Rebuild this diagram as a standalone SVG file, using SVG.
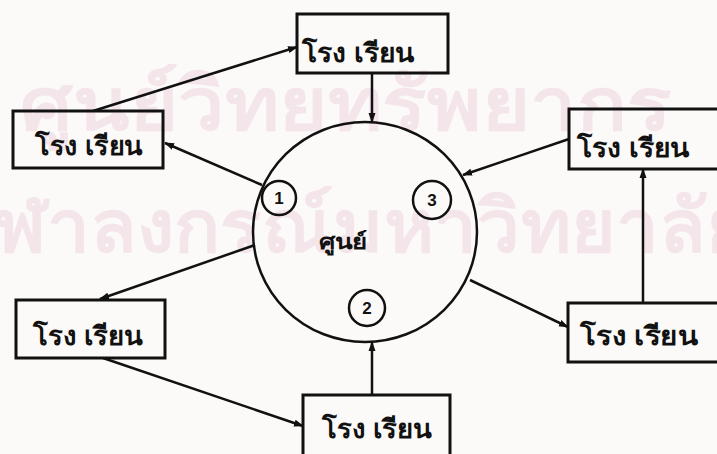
<svg xmlns="http://www.w3.org/2000/svg" width="717" height="454" viewBox="0 0 717 454">
<defs>
<marker id="ah" viewBox="0 0 10 10" refX="9" refY="5" markerWidth="4" markerHeight="4" orient="auto" markerUnits="strokeWidth">
<path d="M0,1.5 L10,5 L0,8.5 z" fill="#111"/>
</marker>
<style>
.bg{fill:#fbfaf8}
.wm{fill:#f4e5eb;font-family:"Noto Sans","DejaVu Sans",sans-serif;font-weight:bold}
.box{fill:none;stroke:#111;stroke-width:3}
.lbl{fill:#111;font-family:"Noto Sans","DejaVu Sans",sans-serif;font-size:26px;font-weight:bold}
.c{fill:none;stroke:#111;stroke-width:2.5}
.num{fill:#111;font-family:"Liberation Sans",Arial,sans-serif;font-size:17px;font-weight:bold;text-anchor:middle}
.conn line{stroke:#111;stroke-width:2.5;marker-end:url(#ah)}
</style>
</defs>
<rect class="bg" x="0" y="0" width="717" height="454"/>
<g id="watermark">
<text class="wm" x="20" y="130" font-size="74" textLength="652" lengthAdjust="spacingAndGlyphs">ศูนย์วิทยทรัพยากร</text>
<text class="wm" x="-50" y="252" font-size="74" textLength="800" lengthAdjust="spacingAndGlyphs">จุฬาลงกรณ์มหาวิทยาลัย</text>
</g>
<g id="connectors" class="conn">
<line x1="93" y1="111" x2="297" y2="47"/>
<line x1="372" y1="73" x2="372" y2="122"/>
<line x1="262" y1="185" x2="165" y2="143"/>
<line x1="569" y1="139" x2="463" y2="175"/>
<line x1="643" y1="303" x2="643" y2="169"/>
<line x1="470" y1="280" x2="568" y2="327"/>
<line x1="255" y1="245" x2="100" y2="299"/>
<line x1="103" y1="358" x2="303" y2="426"/>
<line x1="372" y1="395" x2="372" y2="342"/>
</g>
<g id="center">
<ellipse class="c" cx="365" cy="232" rx="112" ry="110"/>
<text x="319" y="249" fill="#111" font-family="'Noto Sans','DejaVu Sans',sans-serif" font-size="21" font-weight="bold" textLength="48" lengthAdjust="spacingAndGlyphs">ศูนย์</text>
</g>
<g id="p1"><circle class="c" cx="279" cy="198" r="17"/><text class="num" x="279" y="204">1</text></g>
<g id="p3"><circle class="c" cx="432" cy="200" r="19"/><text class="num" x="432" y="206">3</text></g>
<g id="p2"><circle class="c" cx="367" cy="308" r="18"/><text class="num" x="367" y="314">2</text></g>
<g id="school-top"><rect class="box" x="297" y="14" width="151" height="59"/><text class="lbl" x="302" y="62" textLength="113" lengthAdjust="spacingAndGlyphs">โรง เรียน</text></g>
<g id="school-left-top"><rect class="box" x="13" y="111" width="150" height="57"/><text class="lbl" x="35" y="155" textLength="108" lengthAdjust="spacingAndGlyphs">โรง เรียน</text></g>
<g id="school-right-top"><rect class="box" x="569" y="109" width="160" height="60"/><text class="lbl" x="577" y="157" textLength="113" lengthAdjust="spacingAndGlyphs">โรง เรียน</text></g>
<g id="school-left-bottom"><rect class="box" x="16" y="300" width="149" height="58"/><text class="lbl" x="33" y="345" textLength="110" lengthAdjust="spacingAndGlyphs">โรง เรียน</text></g>
<g id="school-right-bottom"><rect class="box" x="568" y="303" width="160" height="59"/><text class="lbl" x="580" y="345" textLength="118" lengthAdjust="spacingAndGlyphs">โรง เรียน</text></g>
<g id="school-bottom"><rect class="box" x="303" y="395" width="147" height="70"/><text class="lbl" x="322" y="438" textLength="110" lengthAdjust="spacingAndGlyphs">โรง เรียน</text></g>
</svg>
